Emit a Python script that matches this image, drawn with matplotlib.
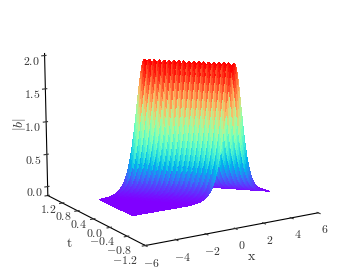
import matplotlib
matplotlib.use("Agg")
import matplotlib.pyplot as plt
import numpy as np

plt.rcParams.update({"mathtext.fontset": "cm", "font.family": "serif", "font.serif": ["cmr10", "DejaVu Serif"],
                     "axes.unicode_minus": False, "axes.formatter.use_mathtext": True, "font.size": 8})

# half of the |b| crest, read from the peak outwards (step 0.07 in x)
crest = [2.000, 1.986, 1.945, 1.878, 1.790, 1.685, 1.567, 1.441, 1.312, 1.184, 1.059,
         0.941, 0.830, 0.728, 0.635, 0.551, 0.477, 0.411, 0.354, 0.303, 0.259,
         0.221, 0.189, 0.161, 0.137, 0.117, 0.099, 0.084, 0.072, 0.061, 0.052,
         0.044, 0.037, 0.032, 0.027, 0.023, 0.019, 0.016, 0.014, 0.012, 0.010,
         0.008, 0.007, 0.006, 0.005, 0.004, 0.004, 0.003, 0.003, 0.002, 0.002]
dx = 0.07
n_x, n_t = 140, 19
step = 3  # crest travels this many samples towards -x per t row
t_start, t_end = -0.47, 0.33
x_start = -4.7
x_ticks = [-6, -4, -2, 0, 2, 4, 6]
t_ticks = [-1.2, -0.8, -0.4, 0.0, 0.4, 0.8, 1.2]
z_ticks = [0.0, 0.5, 1.0, 1.5, 2.0]

x = x_start + dx * np.arange(n_x)
t = np.linspace(t_start, t_end, n_t)
profile = np.array(crest[:0:-1] + crest)
peak_start = 2.3  # crest x at first t row
Z = np.zeros((n_t, n_x))
for i in range(n_t):
    c = int(round((peak_start - x_start) / dx)) - step * i
    for j in range(n_x):
        k = j - c + len(crest) - 1
        Z[i, j] = profile[k] if 0 <= k < len(profile) else 0.002
X, T = np.meshgrid(x, t)

fig = plt.figure(figsize=(3.55, 2.73), dpi=100)
ax = fig.add_axes([-0.05, -0.065, 1.09, 1.13], projection="3d")
ax.set_proj_type("persp", focal_length=0.8)
ax.plot_surface(X, T, Z, cmap="rainbow", rstride=1, cstride=1, linewidth=0, antialiased=False)
ax.view_init(elev=13, azim=-122)
ax.set_xlim(-6, 6)
ax.set_ylim(-1.2, 1.2)
ax.set_zlim(-0.14, 2.03)
ax.grid(False)
for a in (ax.xaxis, ax.yaxis, ax.zaxis):
    a.set_pane_color((1, 1, 1, 0))
    a.pane.set_edgecolor((1, 1, 1, 0))
    a.line.set_linewidth(0.8)
    a.line.set_color("k")
    a.set_rotate_label(False)
ax.set_xticks(x_ticks, [f"${v}$" for v in x_ticks])
ax.set_yticks(t_ticks, [f"${v}$" for v in t_ticks])
ax.set_zticks(z_ticks, [f"${v}$" for v in z_ticks])
ax.tick_params(labelsize=8.5, colors="#333333")
ax.tick_params(axis="x", pad=-2)
ax.tick_params(axis="y", pad=-3)
ax.tick_params(axis="z", pad=-2)
# t labels bunch towards the corner, as in the original
for lab, v in zip(ax.yaxis.get_ticklabels(), t_ticks):
    if v >= 0:
        lab.set_ha("left")
    elif v > -1.0:
        lab.set_ha("center")
    else:
        lab.set_ha("right")
ax.set_xlabel(r"$\mathrm{x}$", labelpad=-5, fontsize=10, color="#333333")
ax.set_ylabel(r"$\mathrm{t}$", labelpad=-5, fontsize=10, color="#333333")
ax.set_zlabel(r"$|b|$", labelpad=-9, fontsize=10, color="#333333", rotation=90)
fig.savefig("out.png", dpi=100)
